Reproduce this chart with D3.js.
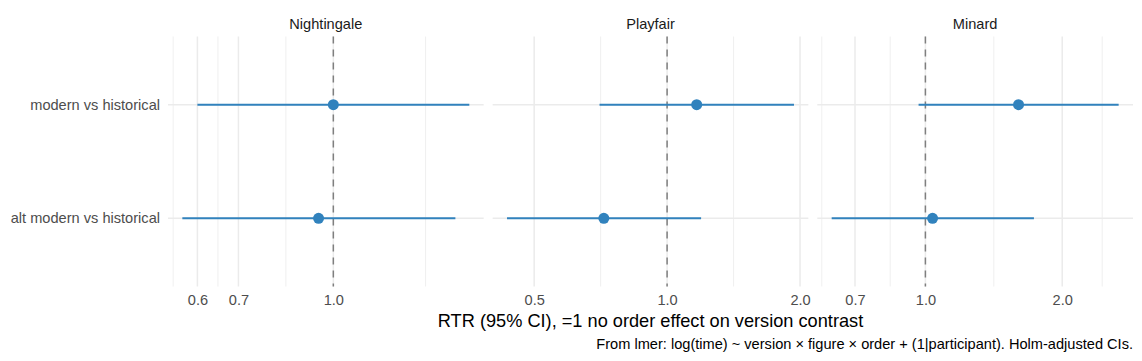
<!DOCTYPE html>
<html>
<head>
<meta charset="utf-8">
<script src="https://cdn.jsdelivr.net/npm/d3@7"></script>
<style>
  body { margin: 0; background: #fff; }
  text { font-family: "Liberation Sans", Arial, sans-serif; }
</style>
</head>
<body>
<script>

// facets and rows
const figures = ["Nightingale", "Playfair", "Minard"];
const contrasts = ["modern vs historical", "alt modern vs historical"];

// ratio estimates + 95% CI, one value per figure
const estModern = [1.000, 1.167, 1.603];
const loModern  = [0.600, 0.703, 0.966];
const hiModern  = [1.667, 1.938, 2.662];

const estAlt = [0.946, 0.719, 1.037];
const loAlt  = [0.567, 0.434, 0.622];
const hiAlt  = [1.582, 1.194, 1.733];

// major breaks per facet (some fall outside the panel, they only drive the minor grid)
const majorBreaks = [
  [0.5, 0.6, 0.7, 1, 2],
  [0.5, 1, 2],
  [0.5, 0.7, 1, 2, 3]
];

const xTitle = "RTR (95% CI), =1 no order effect on version contrast";
const caption = "From lmer: log(time) ~ version \u00d7 figure \u00d7 order + (1|participant). Holm-adjusted CIs.";

const width = 1142, height = 361;
const panelLeft = 168, panelRight = 1133, panelGap = 9;
const panelTop = 36.5, panelBottom = 286.5;
const panelW = (panelRight - panelLeft - 2 * panelGap) / 3;

const smallFont = 14.6;
const blue = "#3182bd";
const gridCol = "#ebebeb";

const svg = d3.select("body")
  .append("svg")
  .attr("width", width)
  .attr("height", height);

const y = d3.scalePoint()
  .domain(contrasts)
  .range([panelTop, panelBottom])
  .padding(0.6);

// y labels (shared, on the left)
svg.append("g")
  .selectAll("text")
  .data(contrasts)
  .join("text")
  .attr("x", panelLeft - 8)
  .attr("y", d => y(d))
  .attr("dy", "0.35em")
  .attr("text-anchor", "end")
  .attr("font-size", smallFont)
  .attr("fill", "#4d4d4d")
  .text(d => d);

figures.forEach((fig, i) => {

  const rows = [
    { row: contrasts[0], est: estModern[i], lo: loModern[i], hi: hiModern[i] },
    { row: contrasts[1], est: estAlt[i], lo: loAlt[i], hi: hiAlt[i] }
  ];

  // ggplot style 5% expansion in log space
  const lmin = Math.log(d3.min(rows, d => d.lo));
  const lmax = Math.log(d3.max(rows, d => d.hi));
  const pad = (lmax - lmin) * 0.05;

  const x0 = panelLeft + i * (panelW + panelGap);
  const x = d3.scaleLog()
    .domain([Math.exp(lmin - pad), Math.exp(lmax + pad)])
    .range([x0, x0 + panelW]);

  const [d0, d1] = x.domain();
  const majors = majorBreaks[i];
  const minors = d3.pairs(majors).map(([a, b]) => Math.sqrt(a * b));
  const inside = v => v >= d0 && v <= d1;

  const g = svg.append("g").attr("class", "panel");

  // minor grid
  g.selectAll("line.minor")
    .data(minors.filter(inside))
    .join("line")
    .attr("class", "minor")
    .attr("x1", d => x(d)).attr("x2", d => x(d))
    .attr("y1", panelTop).attr("y2", panelBottom)
    .attr("stroke", gridCol)
    .attr("stroke-width", 0.8);

  // major grid, vertical
  g.selectAll("line.majorx")
    .data(majors.filter(inside))
    .join("line")
    .attr("class", "majorx")
    .attr("x1", d => x(d)).attr("x2", d => x(d))
    .attr("y1", panelTop).attr("y2", panelBottom)
    .attr("stroke", gridCol)
    .attr("stroke-width", 1.5);

  // major grid, horizontal
  g.selectAll("line.majory")
    .data(contrasts)
    .join("line")
    .attr("class", "majory")
    .attr("x1", x0).attr("x2", x0 + panelW)
    .attr("y1", d => y(d)).attr("y2", d => y(d))
    .attr("stroke", gridCol)
    .attr("stroke-width", 1.5);

  // reference line at 1
  g.append("line")
    .attr("x1", x(1)).attr("x2", x(1))
    .attr("y1", panelTop).attr("y2", panelBottom)
    .attr("stroke", "#7f7f7f")
    .attr("stroke-width", 1.5)
    .attr("stroke-dasharray", "7,6");

  // CI bars
  g.selectAll("line.ci")
    .data(rows)
    .join("line")
    .attr("class", "ci")
    .attr("x1", d => x(d.lo)).attr("x2", d => x(d.hi))
    .attr("y1", d => y(d.row)).attr("y2", d => y(d.row))
    .attr("stroke", blue)
    .attr("stroke-width", 2);

  // point estimates
  g.selectAll("circle")
    .data(rows)
    .join("circle")
    .attr("cx", d => x(d.est))
    .attr("cy", d => y(d.row))
    .attr("r", 5.5)
    .attr("fill", blue);

  // x axis labels
  const axis = d3.axisBottom(x)
    .tickValues(majors.filter(inside))
    .tickFormat(d3.format(".1f"))
    .tickSize(0)
    .tickPadding(0);

  const ax = svg.append("g")
    .attr("transform", `translate(0,${panelBottom + 8.5})`)
    .call(axis);
  ax.select(".domain").remove();
  ax.selectAll("text")
    .attr("font-size", smallFont)
    .attr("font-family", "Liberation Sans, Arial, sans-serif")
    .attr("fill", "#4d4d4d");

  // strip title
  svg.append("text")
    .attr("x", x0 + panelW / 2)
    .attr("y", 23.5)
    .attr("dy", "0.35em")
    .attr("text-anchor", "middle")
    .attr("font-size", smallFont)
    .attr("fill", "#1a1a1a")
    .text(fig);
});

svg.append("text")
  .attr("x", (panelLeft + panelRight) / 2)
  .attr("y", 321)
  .attr("dy", "0.35em")
  .attr("text-anchor", "middle")
  .attr("font-size", 18.2)
  .attr("fill", "#000")
  .text(xTitle);

svg.append("text")
  .attr("x", panelRight)
  .attr("y", 344)
  .attr("dy", "0.35em")
  .attr("text-anchor", "end")
  .attr("font-size", smallFont)
  .attr("fill", "#000")
  .text(caption);

</script>
</body>
</html>
